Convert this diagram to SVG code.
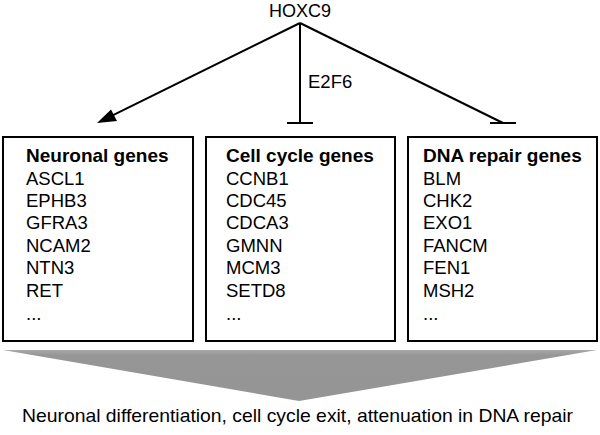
<svg xmlns="http://www.w3.org/2000/svg" width="600" height="435" viewBox="0 0 600 435">
  <style>
    text { font-family: "Liberation Sans", Arial, sans-serif; font-size: 18.5px; fill: #000; }
    .hdr { font-weight: bold; font-size: 19px; }
    .box { fill: #fff; stroke: #000; stroke-width: 2; }
    .edge { fill: none; stroke: #000; stroke-width: 2; }
  </style>
  <defs>
    <linearGradient id="fade" x1="0" y1="0" x2="0" y2="1">
      <stop offset="0" stop-color="#a8a8a8"/>
      <stop offset="0.1" stop-color="#969696"/>
      <stop offset="1" stop-color="#959595"/>
    </linearGradient>
  </defs>

  <g id="hoxc9">
    <text x="300" y="16.5" text-anchor="middle" style="font-size:18px">HOXC9</text>
  </g>

  <g id="connectors">
    <path class="edge" d="M300,23 L106,118.6"/>
    <path d="M97,123 L111,109.5 L117,121 Z" fill="#000"/>
    <path class="edge" d="M300,23 L300,123"/>
    <path class="edge" d="M287,123 L313,123"/>
    <path class="edge" d="M300,23 L503,123"/>
    <path class="edge" d="M490,123 L516,123"/>
    <text x="308" y="88">E2F6</text>
  </g>

  <g id="neuronal">
    <rect class="box" x="3" y="137" width="190" height="204"/>
    <text class="hdr" x="26" y="162">Neuronal genes</text>
    <text x="26" y="184.5">ASCL1</text>
    <text x="26" y="207">EPHB3</text>
    <text x="26" y="229.3">GFRA3</text>
    <text x="26" y="251.7">NCAM2</text>
    <text x="26" y="274">NTN3</text>
    <text x="26" y="296.5">RET</text>
    <text x="26" y="320">...</text>
  </g>

  <g id="cellcycle">
    <rect class="box" x="206" y="137" width="189" height="204"/>
    <text class="hdr" x="226" y="162">Cell cycle genes</text>
    <text x="226" y="184.5">CCNB1</text>
    <text x="226" y="207">CDC45</text>
    <text x="226" y="229.3">CDCA3</text>
    <text x="226" y="251.7">GMNN</text>
    <text x="226" y="274">MCM3</text>
    <text x="226" y="296.5">SETD8</text>
    <text x="226" y="320">...</text>
  </g>

  <g id="dnarepair">
    <rect class="box" x="408" y="137" width="189" height="204"/>
    <text class="hdr" x="423" y="162">DNA repair genes</text>
    <text x="423" y="184.5">BLM</text>
    <text x="423" y="207">CHK2</text>
    <text x="423" y="229.3">EXO1</text>
    <text x="423" y="251.7">FANCM</text>
    <text x="423" y="274">FEN1</text>
    <text x="423" y="296.5">MSH2</text>
    <text x="423" y="320">...</text>
  </g>

  <g id="outcome">
    <polygon points="3,350 597,350 299,401" fill="url(#fade)"/>
    <text x="22" y="422" textLength="551" lengthAdjust="spacingAndGlyphs">Neuronal differentiation, cell cycle exit, attenuation in DNA repair</text>
  </g>
</svg>
